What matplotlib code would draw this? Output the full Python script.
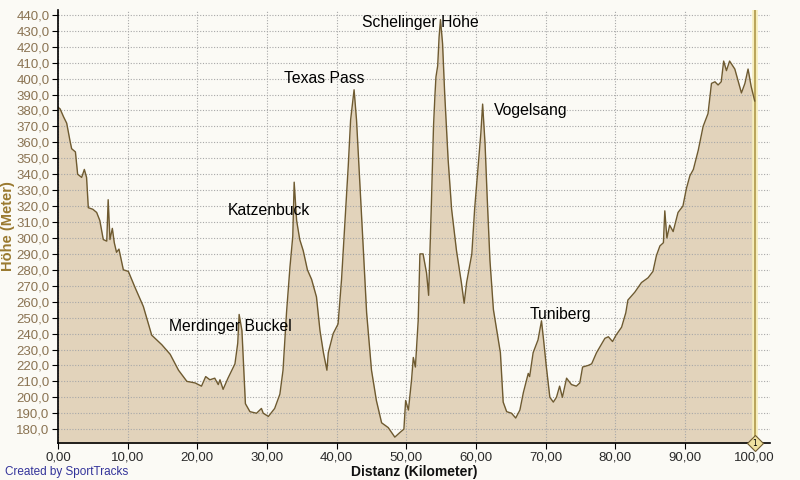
import matplotlib
matplotlib.use("Agg")
import matplotlib.pyplot as plt
from matplotlib.ticker import FuncFormatter

km = [0.0, 0.3, 0.8, 1.25, 1.72, 1.96, 2.5, 2.82, 3.4, 3.78, 4.1, 4.35, 5.0, 5.55, 6.0, 6.5, 7.0, 7.2, 7.46, 7.8,
      8.08, 8.4, 8.75, 9.38, 10.1, 11.05, 12.25, 13.45, 14.9, 16.1, 17.3, 18.5, 19.7, 20.6, 21.2, 21.8, 22.5, 23.0,
      23.25, 23.7, 24.4, 25.4, 25.8, 26.0, 26.4, 26.9, 27.55, 28.5, 29.2, 29.46, 30.2, 31.1, 31.85, 32.3, 32.8,
      33.3, 33.7, 33.9, 34.25, 34.7, 35.2, 35.8, 36.4, 37.1, 37.6, 38.1, 38.6, 38.8, 39.5, 40.2, 40.7, 41.2, 41.66,
      42.0, 42.5, 42.85, 43.3, 43.8, 44.3, 45.0, 45.7, 46.45, 47.4, 48.35, 49.1, 49.65, 49.9, 50.3, 50.75, 51.0,
      51.3, 51.7, 51.95, 52.4, 52.9, 53.2, 53.6, 53.9, 54.1, 54.25, 54.5, 54.7, 54.9, 55.2, 55.5, 56.0, 56.5, 57.2,
      57.9, 58.3, 58.65, 59.4, 59.8, 60.3, 60.7, 60.95, 61.3, 61.6, 62.0, 62.5, 63.2, 63.5, 63.9, 64.4, 65.1, 65.7,
      66.3, 66.8, 67.5, 67.7, 68.2, 68.9, 69.4, 69.7, 70.1, 70.6, 71.1, 71.55, 72.0, 72.4, 73.0, 73.7, 74.4, 74.9,
      75.3, 76.1, 76.6, 77.3, 78.5, 79.0, 79.6, 80.1, 80.9, 81.5, 81.8, 82.8, 83.75, 84.7, 85.4, 85.9, 86.4, 86.9,
      87.1, 87.4, 87.8, 88.3, 89.0, 89.7, 90.2, 90.7, 91.2, 91.9, 92.6, 93.3, 93.8, 94.3, 94.75, 95.2, 95.55, 95.95,
      96.4, 97.15, 97.6, 98.1, 98.6, 99.05, 99.5, 99.9, 100.0]
elev = [382, 381, 376, 372, 361, 356, 354, 340, 338, 343, 338, 319, 318, 316, 311, 299, 298, 324, 299, 306,
        297, 291, 293, 280, 279, 269, 257, 239, 233, 227, 217, 210, 209, 207, 213, 211, 212, 208,
        211, 205, 212, 221, 234, 252, 242, 196, 191, 190, 193, 190, 188, 193, 202, 217, 253,
        282, 301, 335, 311, 299, 292, 280, 274, 263, 242, 228, 217, 228, 240, 246, 274, 311, 345,
        374, 393, 374, 336, 295, 253, 217, 198, 184, 181, 175, 178, 180, 198, 192, 211, 225,
        219, 248, 290, 290, 278, 264, 322, 370, 389, 401, 408, 426, 437, 422, 391, 349, 318, 292,
        272, 259, 272, 290, 318, 345, 366, 384, 359, 326, 286, 255, 236, 228, 197, 191, 190, 187,
        192, 203, 215, 213, 228, 236, 248, 236, 219, 200, 197, 200, 207, 200, 212, 208, 207, 209,
        219, 220, 221, 228, 237, 238, 235, 239, 244, 253, 261, 266, 272, 275, 279, 289, 295, 297,
        317, 300, 308, 304, 316, 320, 331, 339, 343, 355, 370, 378, 397, 398, 396, 398, 411, 405,
        411, 406, 399, 391, 397, 406, 395, 388, 386]

peak_names = ["Merdinger Buckel", "Katzenbuck", "Texas Pass", "Schelinger Höhe", "Vogelsang", "Tuniberg"]
peak_label_km = [15.9, 24.4, 32.4, 43.6, 62.55, 67.7]
peak_label_elev = [244.7, 317.5, 399.8, 435.0, 379.7, 252.0]

x_ticks = list(range(0, 101, 10))
y_ticks = list(range(180, 441, 10))

marker_km = 100.0
marker_label = "1"

y_min, y_max = 171.3, 443.0
x_min, x_max = 0.0, 102.2

bg = "#fbfaf5"
fill_c = "#e2d3bb"
line_c = "#6e5a30"
FONT = "Liberation Sans"

fig = plt.figure(figsize=(8, 4.8), dpi=100, facecolor=bg)
ax = fig.add_axes([0.0725, 0.077, 0.89, 0.902])
ax.set_facecolor(bg)

ax.fill_between(km, elev, y_min - 5, color=fill_c, lw=0, zorder=1)
ax.plot(km, elev, color=line_c, lw=1.0, zorder=3)

ax.set_xlim(x_min, x_max)
ax.set_ylim(y_min, y_max)
ax.set_xticks(x_ticks)
ax.set_yticks(y_ticks)
ax.xaxis.set_major_formatter(FuncFormatter(lambda v, p: f"{v:.2f}".replace(".", ",")))
ax.yaxis.set_major_formatter(FuncFormatter(lambda v, p: f"{v:.1f}".replace(".", ",")))

ax.grid(True, which="major", linestyle=(0, (1, 1.5)), color="#a8a8a8", lw=0.8, zorder=2)
ax.set_axisbelow(False)
for s in ["top", "right"]:
    ax.spines[s].set_visible(False)
for s in ["left", "bottom"]:
    ax.spines[s].set_color("black")
    ax.spines[s].set_linewidth(1.2)
    ax.spines[s].set_zorder(4)

ax.tick_params(axis="y", direction="out", length=4, width=0.8, colors="black",
               labelcolor="#8a7352", labelsize=9.5, pad=2)
ax.tick_params(axis="x", direction="out", length=4, width=0.8, colors="black",
               labelcolor="#2a2a2a", labelsize=9.5, pad=2)
for lab in ax.get_xticklabels() + ax.get_yticklabels():
    lab.set_family(FONT)

ax.set_xlabel("Distanz (Kilometer)", fontsize=10, fontweight="bold", color="#111111",
              family=FONT)
ax.xaxis.set_label_coords(0.5, -0.05)
ax.set_ylabel("Höhe (Meter)", fontsize=10.5, fontweight="bold", color="#9a7a30", family=FONT)
ax.yaxis.set_label_coords(-0.06, 0.5)

for name, xk, ye in zip(peak_names, peak_label_km, peak_label_elev):
    ax.text(xk, ye, name, ha="left", va="center", fontsize=11.3, family=FONT,
            color="black", zorder=5)

ax.axvline(marker_km, color="#f6eebb", lw=4, zorder=2.6)
ax.axvline(marker_km, color="#a89040", lw=1.1, zorder=2.7)
ax.plot([marker_km], [y_min], marker="D", markersize=8, markerfacecolor="#f0e2a0",
        markeredgecolor="#6e5a30", markeredgewidth=0.8, clip_on=False, zorder=6)
ax.text(marker_km, y_min, marker_label, ha="center", va="center", fontsize=5.5, color="black",
        clip_on=False, zorder=7)

fig.text(5 / 800, 1 - 472 / 480, "Created by SportTracks", fontsize=8.5, color="#33339a",
         ha="left", va="center", family=FONT)

fig.savefig("out.png", dpi=100, facecolor=bg)
